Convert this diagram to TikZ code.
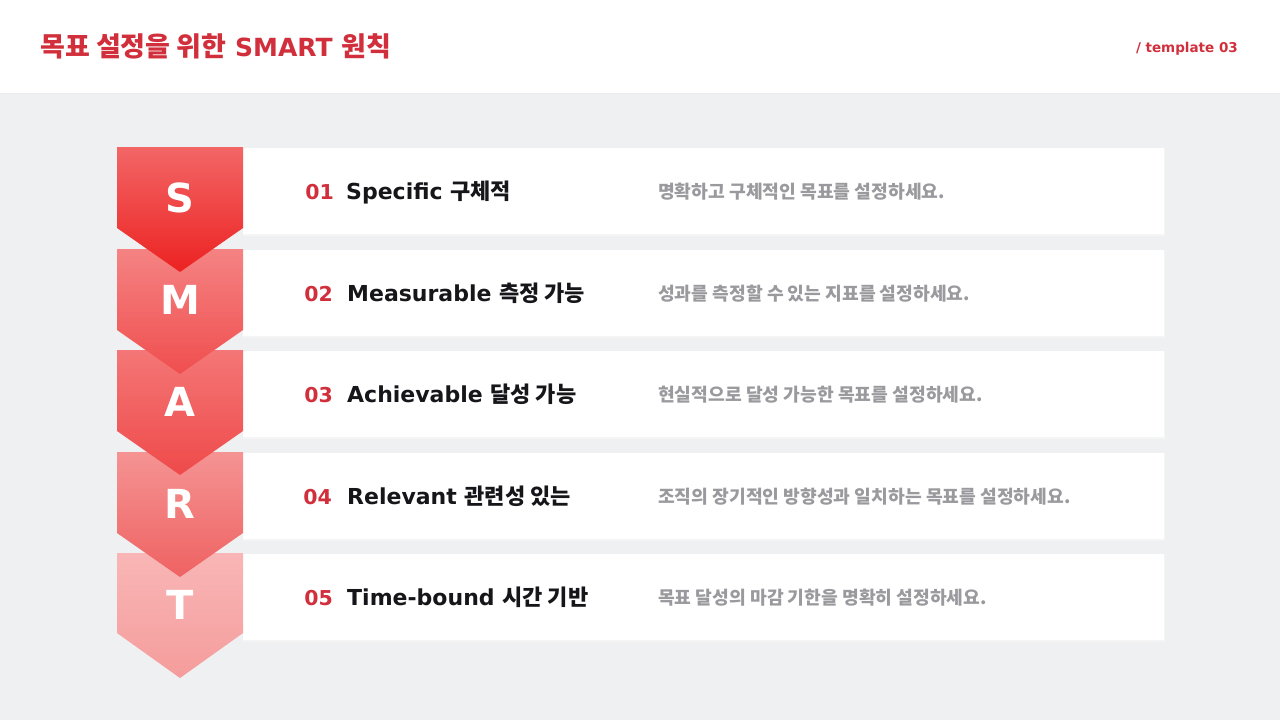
\documentclass[tikz,border=0pt]{standalone}
\usepackage{fontspec}
\setmainfont{Noto Sans CJK KR}
\newfontfamily\lat{DejaVu Sans}
\definecolor{bg}{HTML}{EEF0F2}
\definecolor{brand}{HTML}{D12F3B}
\definecolor{ink}{HTML}{16161A}
\definecolor{muted}{HTML}{9A9A9E}
\definecolor{sTop}{HTML}{F36666}\definecolor{sBot}{HTML}{EC2222}
\definecolor{mTop}{HTML}{F58383}\definecolor{mBot}{HTML}{F04E4E}
\definecolor{aTop}{HTML}{F47676}\definecolor{aBot}{HTML}{EF4A4A}
\definecolor{rTop}{HTML}{F59393}\definecolor{rBot}{HTML}{EF6262}
\definecolor{tTop}{HTML}{F9B6B6}\definecolor{tBot}{HTML}{F59C9C}
\newcommand{\latw}[1]{{\lat\bfseries #1}}
\tikzset{
  rowbox/.style={fill=white, draw=none},
  numtxt/.style={anchor=base east, text=brand, font=\lat\bfseries\fontsize{20.5}{24}\selectfont, inner sep=0},
  nametxt/.style={anchor=base west, text=ink, font=\bfseries\fontsize{22}{24}\selectfont, inner sep=0},
  desctxt/.style={anchor=base west, text=muted, font=\bfseries\fontsize{18.2}{20}\selectfont, inner sep=0},
  bigletter/.style={text=white, font=\lat\bfseries\fontsize{40}{44}\selectfont, inner sep=0},
}
\begin{document}
\begin{tikzpicture}[x=1pt,y=-1pt]
\useasboundingbox (0,0) rectangle (1280,720);
\fill[bg] (0,0) rectangle (1280,720);
\fill[white] (0,0) rectangle (1280,93);
\draw[black!8] (0,93.5) -- (1280,93.5);
\node[anchor=base west, text=brand, font=\bfseries\fontsize{27}{30}\selectfont, inner sep=0] (title) at (40,56) {목표 설정을 위한{\fontsize{25}{30}\selectfont\latw{ SMART }}원칙};
\node[anchor=base east, text=brand, font=\lat\bfseries\fontsize{13.5}{18}\selectfont, inner sep=0] (tpl) at (1238,52) {/ template 03};

% row boxes
\foreach \t/\n in {148/1,250/2,351/3,453/4,554/5}{
  \fill[black!4] (243,\t+1) rectangle (1165,\t+87.5);
  \fill[rowbox] (243,\t) rectangle (1164,\t+86);
}

% arrows, bottom first
\shade[top color=tTop, bottom color=tBot] (117,553) -- (243,553) -- (243,633) -- (180,678) -- (117,633) -- cycle;
\shade[top color=rTop, bottom color=rBot] (117,452) -- (243,452) -- (243,533) -- (180,577) -- (117,533) -- cycle;
\shade[top color=aTop, bottom color=aBot] (117,350) -- (243,350) -- (243,431) -- (180,475) -- (117,431) -- cycle;
\shade[top color=mTop, bottom color=mBot] (117,249) -- (243,249) -- (243,330) -- (180,374) -- (117,330) -- cycle;
\shade[top color=sTop, bottom color=sBot] (117,147) -- (243,147) -- (243,228) -- (180,272) -- (117,228) -- cycle;

\node[bigletter] (ls) at (180,198) {S};
\node[bigletter] (lm) at (180,300) {M};
\node[bigletter] (la) at (180,402) {A};
\node[bigletter] (lr) at (180,504) {R};
\node[bigletter] (lt) at (180,605) {T};

\node[numtxt] (n1) at (334,199) {01};
\node[nametxt] (t1) at (346,199) {\latw{Specific }구체적};
\node[desctxt] (d1) at (658,198) {명확하고 구체적인 목표를 설정하세요.};

\node[numtxt] (n2) at (333,301) {02};
\node[nametxt] (t2) at (347,301) {\latw{Measurable }측정 가능};
\node[desctxt] (d2) at (658,300) {성과를 측정할 수 있는 지표를 설정하세요.};

\node[numtxt] (n3) at (333,402) {03};
\node[nametxt] (t3) at (347,402) {\latw{Achievable }달성 가능};
\node[desctxt] (d3) at (658,401) {현실적으로 달성 가능한 목표를 설정하세요.};

\node[numtxt] (n4) at (332,504) {04};
\node[nametxt] (t4) at (347,504) {\latw{Relevant }관련성 있는};
\node[desctxt] (d4) at (658,503) {조직의 장기적인 방향성과 일치하는 목표를 설정하세요.};

\node[numtxt] (n5) at (333,605) {05};
\node[nametxt] (t5) at (347,605) {\latw{Time-bound }시간 기반};
\node[desctxt] (d5) at (658,604) {목표 달성의 마감 기한을 명확히 설정하세요.};
\end{tikzpicture}
\end{document}
